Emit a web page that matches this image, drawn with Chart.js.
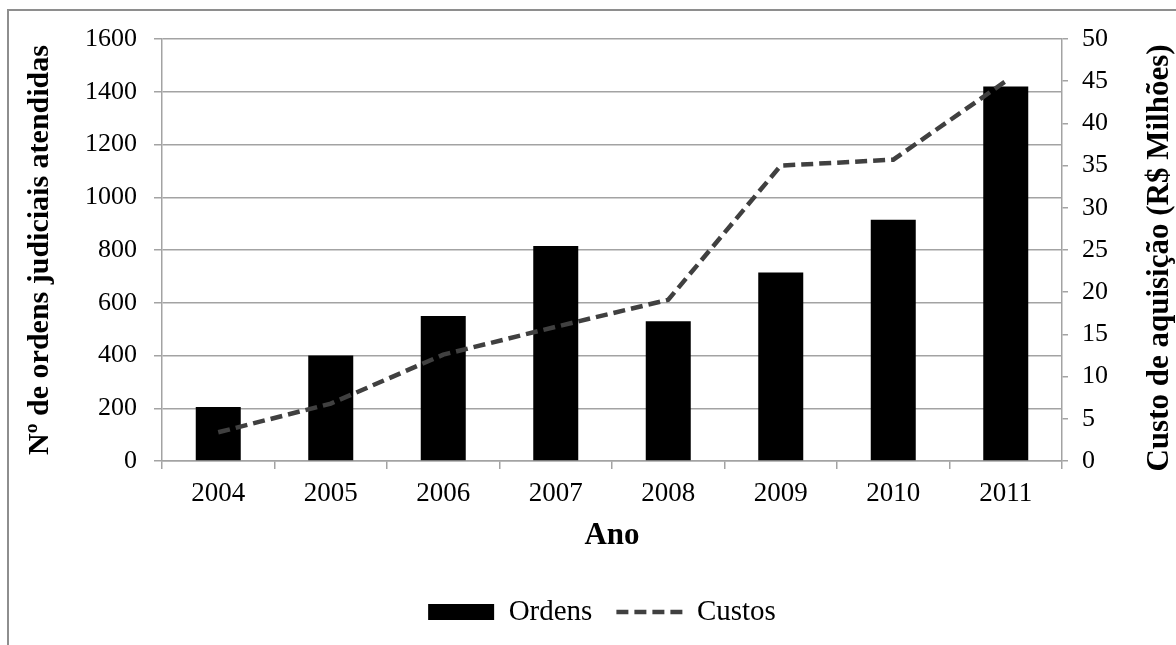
<!DOCTYPE html>
<html lang="pt">
<head>
<meta charset="utf-8">
<title>Ordens judiciais e custo de aquisição, 2004–2011</title>
<script src="https://cdn.jsdelivr.net/npm/chart.js@4/dist/chart.umd.min.js"></script>
<style>
  html, body { margin: 0; padding: 0; background: #ffffff; }
  #wrap { position: relative; width: 1176px; height: 645px; overflow: hidden; }
  #frame {
    position: absolute; left: 7px; top: 9px; right: -4px; bottom: -4px;
    border-left: 2px solid #8e8e8e; border-top: 2px solid #8e8e8e;
  }
  #chart { position: absolute; left: 0; top: 0; }
</style>
</head>
<body>
<div id="wrap">
  <div id="frame"></div>
  <canvas id="chart" width="1176" height="645"></canvas>
</div>
<script>
// Years on the category axis
const anos = ['2004', '2005', '2006', '2007', '2008', '2009', '2010', '2011'];
// Number of court orders served per year (left axis)
const ordens = [205, 400, 550, 815, 530, 715, 915, 1420];
// Acquisition cost, millions of reais (right axis)
const custos = [3.4, 6.8, 12.6, 15.9, 19.1, 35.0, 35.7, 45.0];

const tituloX = 'Ano';
const tituloEsq = 'Nº de ordens judiciais atendidas';
const tituloDir = 'Custo de aquisição (R$ Milhões)';
const rotulosSeries = ['Ordens', 'Custos'];

const SERIF = '"Liberation Serif", "Times New Roman", Times, serif';
const GRID = '#a3a3a3';
const H = 645, PLOT_BOTTOM = 461, PAD_BOTTOM = 8.5;

Chart.defaults.font.family = SERIF;
Chart.defaults.color = '#000000';

// Right-hand axis title, read bottom-to-top like the left one
const rightTitle = {
  id: 'rightTitle',
  afterDraw(chart) {
    const ctx = chart.ctx;
    const y = chart.scales.y;
    ctx.save();
    ctx.translate(1160, (y.top + y.bottom) / 2 + 8);
    ctx.rotate(-Math.PI / 2);
    ctx.font = 'bold 31px ' + SERIF;
    ctx.fillStyle = '#000000';
    ctx.textAlign = 'center';
    ctx.textBaseline = 'middle';
    ctx.fillText(tituloDir, 0, 0);
    ctx.restore();
  }
};

new Chart(document.getElementById('chart'), {
  data: {
    labels: anos,
    datasets: [
      {
        type: 'bar',
        label: rotulosSeries[0],
        data: ordens,
        yAxisID: 'y',
        backgroundColor: '#000000',
        borderWidth: 0,
        categoryPercentage: 1,
        barPercentage: 0.4,
        pointStyle: 'rect',
        order: 1
      },
      {
        type: 'line',
        label: rotulosSeries[1],
        data: custos,
        yAxisID: 'y1',
        borderColor: '#404040',
        backgroundColor: '#404040',
        borderWidth: 4.5,
        borderDash: [12, 6],
        pointRadius: 0,
        pointHoverRadius: 0,
        pointStyle: 'line',
        tension: 0,
        fill: false,
        order: 0
      }
    ]
  },
  options: {
    responsive: false,
    animation: false,
    devicePixelRatio: 1,
    layout: { padding: { top: 39, left: 0, right: -28, bottom: PAD_BOTTOM } },
    plugins: {
      tooltip: { enabled: false },
      legend: {
        position: 'bottom',
        labels: {
          font: { size: 29 },
          color: '#000000',
          usePointStyle: true,
          pointStyleWidth: 66,
          boxHeight: 16,
          padding: 24,
          sort: (a, b) => a.datasetIndex - b.datasetIndex,
          generateLabels(chart) {
            const items = Chart.defaults.plugins.legend.labels.generateLabels(chart);
            items.forEach(it => {
              const ds = chart.data.datasets[it.datasetIndex];
              if (ds.borderDash) it.lineDash = ds.borderDash;
            });
            return items;
          }
        }
      }
    },
    scales: {
      x: {
        type: 'category',
        offset: true,
        grid: {
          offset: true,
          drawOnChartArea: false,
          drawTicks: true,
          tickLength: 8,
          color: GRID,
          lineWidth: 1.5
        },
        border: { color: GRID, width: 1.5 },
        ticks: { font: { size: 27 }, color: '#000000', padding: 9, maxRotation: 0 },
        title: {
          display: true,
          text: tituloX,
          font: { size: 31, weight: 'bold' },
          color: '#000000',
          padding: { top: 0, bottom: 19 }
        },
        afterFit(scale) {
          scale.height = H - PAD_BOTTOM - scale.chart.legend.height - PLOT_BOTTOM;
        }
      },
      y: {
        position: 'left',
        min: 0,
        max: 1600,
        ticks: {
          stepSize: 200,
          font: { size: 26 },
          color: '#000000',
          padding: 17,
          format: { useGrouping: false }
        },
        grid: { color: GRID, lineWidth: 1.5, tickLength: 8 },
        border: { color: GRID, width: 1.5 },
        title: {
          display: true,
          text: tituloEsq,
          font: { size: 30, weight: 'bold' },
          color: '#000000',
          padding: { top: 22, bottom: 0 }
        },
        afterFit(scale) { scale.width = 162; }
      },
      y1: {
        position: 'right',
        min: 0,
        max: 50,
        ticks: {
          stepSize: 5,
          font: { size: 26 },
          color: '#000000',
          padding: 14,
          format: { useGrouping: false }
        },
        grid: { drawOnChartArea: false, color: GRID, lineWidth: 1.5, tickLength: 6 },
        border: { color: GRID, width: 1.5 },
        afterFit(scale) { scale.width = 142; }
      }
    }
  },
  plugins: [rightTitle]
});
</script>
</body>
</html>
